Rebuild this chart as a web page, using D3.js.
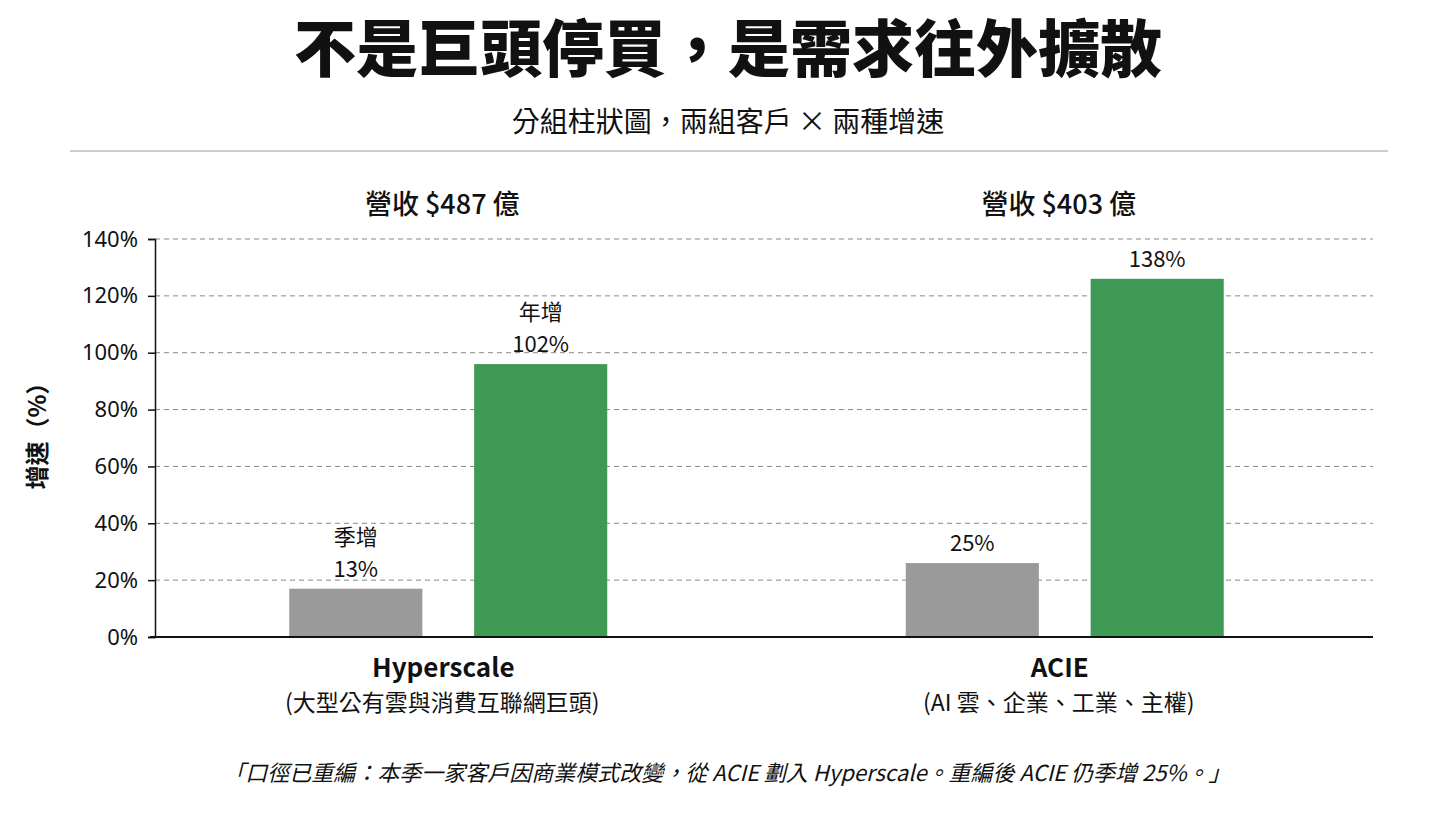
<!DOCTYPE html>
<html>
<head>
<meta charset="utf-8">
<script src="https://cdn.jsdelivr.net/npm/d3@7"></script>
<style>
  body { margin: 0; background: #fff; }
  text { font-family: "Noto Sans CJK TC", "Noto Sans", sans-serif; fill: #111; }
</style>
</head>
<body>
<script>
var w = 1456,
    h = 819;

// data
var groups = ['Hyperscale', 'ACIE'];
var groupSubs = ['(大型公有雲與消費互聯網巨頭)', '(AI 雲、企業、工業、主權)'];
var revenueLabels = ['營收 $487 億', '營收 $403 億'];
var series = ['季增', '年增'];
var qoqBars = [17, 26];     // bar heights as drawn
var yoyBars = [96, 126];
var qoqLabels = [['季增', '13%'], ['25%']];
var yoyLabels = [['年增', '102%'], ['138%']];
var yTicks = [0, 20, 40, 60, 80, 100, 120, 140];
var colors = ['#9a9a9b', '#3e9a55'];

var plotL = 155, plotR = 1373, plotT = 239, plotB = 637;
var lineGap = 32;

var svg = d3.select('body').append('svg')
    .attr('width', w)
    .attr('height', h);

// title + subtitle
svg.append('text')
    .attr('x', w / 2).attr('y', 72)
    .attr('text-anchor', 'middle')
    .style('font-size', '62px').style('font-weight', 900)
    .text('不是巨頭停買，是需求往外擴散');

svg.append('text')
    .attr('x', w / 2).attr('y', 132)
    .attr('text-anchor', 'middle')
    .style('font-size', '28px').style('font-weight', 400)
    .text('分組柱狀圖，兩組客戶 × 兩種增速');

svg.append('line')
    .attr('x1', 70).attr('x2', 1388)
    .attr('y1', 151).attr('y2', 151)
    .attr('stroke', '#bdbdbd').attr('stroke-width', 1.5);

// scales
var y = d3.scaleLinear().domain([0, 140]).range([plotB, plotT]);

var x0 = d3.scaleBand().domain(groups).range([140, 1373]);

var x1 = d3.scaleBand().domain(series).range([-159, 159]).paddingInner(0.28);

// grid
svg.append('g')
    .selectAll('line')
    .data(yTicks.filter(function(d){ return d > 0; }))
    .enter().append('line')
    .attr('x1', plotL).attr('x2', plotR)
    .attr('y1', function(d){ return y(d); })
    .attr('y2', function(d){ return y(d); })
    .attr('stroke', '#8a8a8a')
    .attr('stroke-width', 1)
    .attr('stroke-dasharray', '5,4');

// y axis
var yAxis = svg.append('g')
    .attr('transform', 'translate(' + plotL + ',0)')
    .call(d3.axisLeft(y).tickValues(yTicks).tickSize(7).tickPadding(10)
        .tickFormat(function(d){ return d + '%'; }));
yAxis.select('.domain').attr('stroke', '#111').attr('stroke-width', 1.5);
yAxis.selectAll('.tick line').attr('stroke', '#111').attr('stroke-width', 1.5);
yAxis.selectAll('.tick text')
    .style('font-size', '22px')
    .style('font-family', '"Noto Sans", sans-serif')
    .attr('fill', '#111');

svg.append('text')
    .attr('transform', 'translate(46,' + ((plotT + plotB) / 2 - 8) + ') rotate(-90)')
    .attr('text-anchor', 'middle')
    .style('font-size', '24px').style('font-weight', 700)
    .text('增速（%）');

// bars
var barData = groups.map(function(g, i){
    return [
        {group: g, s: series[0], v: qoqBars[i], lab: qoqLabels[i], c: colors[0]},
        {group: g, s: series[1], v: yoyBars[i], lab: yoyLabels[i], c: colors[1]}
    ];
});

var gG = svg.selectAll('g.grp')
    .data(barData)
    .enter().append('g')
    .attr('class', 'grp')
    .attr('transform', function(d){
        return 'translate(' + (x0(d[0].group) + x0.bandwidth() / 2) + ',0)';
    });

gG.selectAll('rect')
    .data(function(d){ return d; })
    .enter().append('rect')
    .attr('x', function(d){ return x1(d.s); })
    .attr('width', x1.bandwidth())
    .attr('y', function(d){ return y(d.v); })
    .attr('height', function(d){ return y(0) - y(d.v); })
    .attr('fill', function(d){ return d.c; });

// value labels, one text per line
var labLines = [];
barData.forEach(function(grp){
    grp.forEach(function(d){
        var n = d.lab.length;
        d.lab.forEach(function(l, k){
            labLines.push({group: d.group, s: d.s, v: d.v, text: l, up: n - 1 - k});
        });
    });
});

svg.selectAll('text.val')
    .data(labLines)
    .enter().append('text')
    .attr('class', 'val')
    .attr('text-anchor', 'middle')
    .attr('x', function(d){
        return x0(d.group) + x0.bandwidth() / 2 + x1(d.s) + x1.bandwidth() / 2;
    })
    .attr('y', function(d){ return y(d.v) - 12 - d.up * lineGap; })
    .style('font-size', '22px')
    .text(function(d){ return d.text; });

// x axis line
svg.append('line')
    .attr('x1', plotL - 5).attr('x2', plotR)
    .attr('y1', plotB).attr('y2', plotB)
    .attr('stroke', '#111').attr('stroke-width', 2);

// group headers + category labels
groups.forEach(function(g, i){
    var cx = x0(g) + x0.bandwidth() / 2;
    svg.append('text')
        .attr('x', cx - 6).attr('y', 214)
        .attr('text-anchor', 'middle')
        .style('font-size', '27px').style('font-weight', 500)
        .text(revenueLabels[i]);
    svg.append('text')
        .attr('x', cx - 5).attr('y', 677)
        .attr('text-anchor', 'middle')
        .style('font-size', '26px').style('font-weight', 700)
        .text(g);
    svg.append('text')
        .attr('x', cx - 6).attr('y', 711)
        .attr('text-anchor', 'middle')
        .style('font-size', '23px')
        .text(groupSubs[i]);
});

// footnote
svg.append('text')
    .attr('x', 727).attr('y', 781)
    .attr('text-anchor', 'middle')
    .style('font-size', '22px')
    .style('font-style', 'italic')
    .text('「口徑已重編：本季一家客戶因商業模式改變，從 ACIE 劃入 Hyperscale。重編後 ACIE 仍季增 25%。」');
</script>
</body>
</html>
